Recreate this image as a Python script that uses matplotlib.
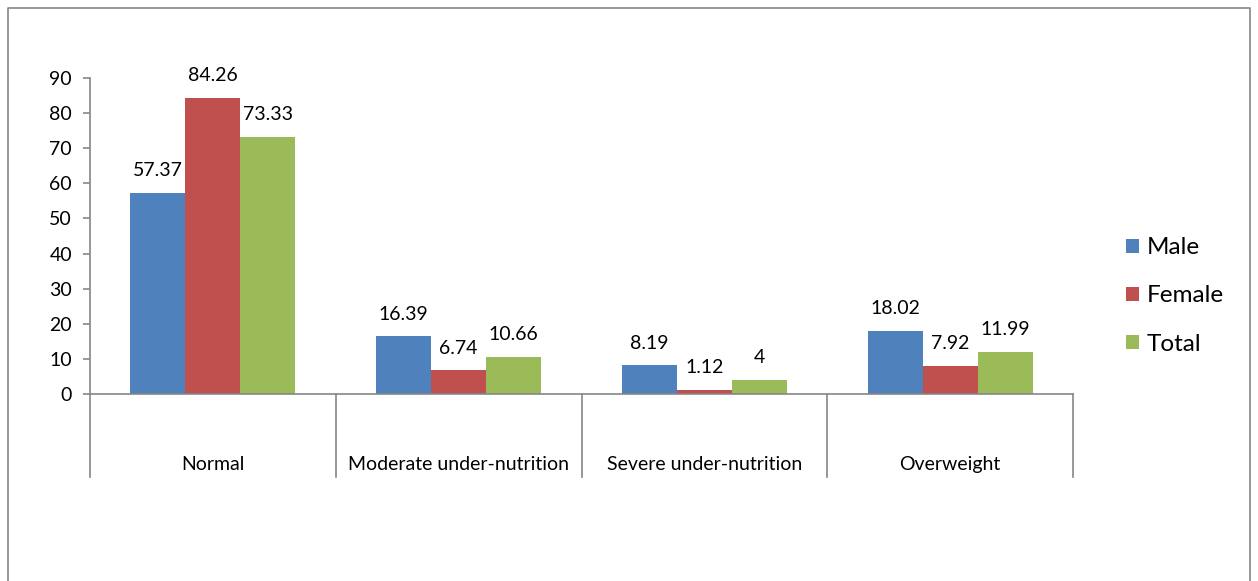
import matplotlib.pyplot as plt
from matplotlib.lines import Line2D
import numpy as np

plt.rcParams['font.family'] = ['Lato', 'DejaVu Sans']

# -------------------------
# Data
# -------------------------
categories = ["Normal", "Moderate under-nutrition", "Severe under-nutrition", "Overweight"]
series_names = ["Male", "Female", "Total"]
male = [57.37, 16.39, 8.19, 18.02]
female = [84.26, 6.74, 1.12, 7.92]
total = [73.33, 10.66, 4, 11.99]
value_labels = [
    ["57.37", "16.39", "8.19", "18.02"],
    ["84.26", "6.74", "1.12", "7.92"],
    ["73.33", "10.66", "4", "11.99"],
]
colors = ["#4F81BD", "#C0504D", "#9BBB59"]
GRAY = "#868686"
FS = 14

# -------------------------
# Figure
# -------------------------
fig = plt.figure(figsize=(12.58, 5.81), dpi=100)
ax = fig.add_axes([90 / 1258, 1 - 394 / 581, (1073 - 90) / 1258, (394 - 78) / 581])

x = np.arange(len(categories)) + 0.5
w = 55 / 246
for i, vals in enumerate([male, female, total]):
    pos = x + (i - 1) * w
    bars = ax.bar(pos, vals, width=w, color=colors[i], label=series_names[i], zorder=2)
    for b, lab in zip(bars, value_labels[i]):
        ax.annotate(lab, (b.get_x() + b.get_width() / 2, b.get_height()),
                    xytext=(0, 16), textcoords="offset points",
                    ha="center", va="center", fontsize=FS)

ax.set_xlim(0, 4)
ax.set_ylim(0, 90)
ax.set_yticks(range(0, 91, 10))
ax.set_xticks([])
for s in ["top", "right"]:
    ax.spines[s].set_visible(False)
for s in ["left", "bottom"]:
    ax.spines[s].set_color(GRAY)
    ax.spines[s].set_linewidth(1.2)
ax.tick_params(axis="y", length=5, width=1.2, color=GRAY, pad=8, labelsize=FS)

# category separators and labels below the axis
for k in range(len(categories) + 1):
    ax.plot([k, k], [0, -0.263], transform=ax.get_xaxis_transform(),
            color=GRAY, lw=1.2, clip_on=False)
for xc, name in zip(x, categories):
    ax.text(xc, -0.224, name, transform=ax.get_xaxis_transform(),
            ha="center", va="center", fontsize=FS)

fig.legend(loc="center left", bbox_to_anchor=(1104 / 1258, 1 - 296 / 581),
           frameon=False, fontsize=17.5, handlelength=0.53, handleheight=0.53,
           handletextpad=0.32, labelspacing=1.12)

# outer chart frame (bottom edge is cut off)
fx = [8 / 1258, 8 / 1258, 1250 / 1258, 1250 / 1258]
fy = [0, 1 - 8 / 581, 1 - 8 / 581, 0]
fig.add_artist(Line2D(fx, fy, transform=fig.transFigure, color=GRAY, lw=1.2))

fig.savefig("out.png", dpi=100)
